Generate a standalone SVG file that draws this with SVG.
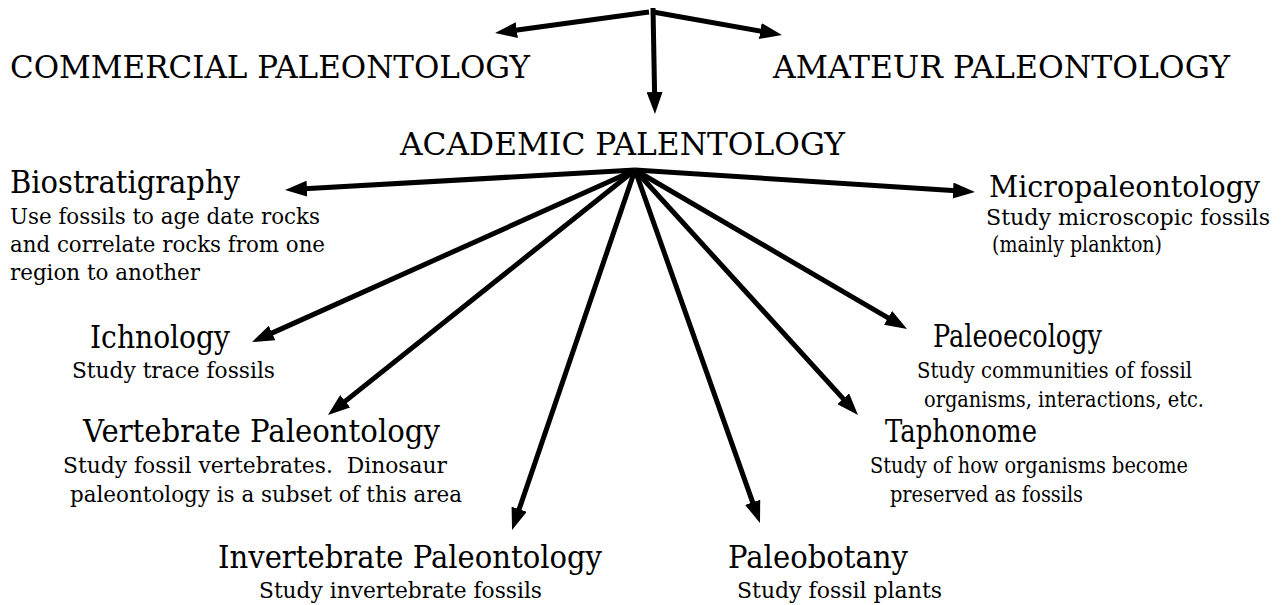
<svg xmlns="http://www.w3.org/2000/svg" width="1281" height="605" viewBox="0 0 1281 605">
<style>
text{font-family:"DejaVu Serif","Liberation Serif",serif;fill:#000;white-space:pre}
.t{font-size:31px}
.d{font-size:22px}
.c{stroke:#000;stroke-width:5;fill:none;marker-end:url(#ah)}
</style>
<defs>
<marker id="ah" markerUnits="userSpaceOnUse" markerWidth="22" markerHeight="16" viewBox="0 0 22 16" refX="7" refY="8" orient="auto">
<path d="M0,0 L22,8 L0,16 Z" fill="#000"/>
</marker>
</defs>
<rect width="1281" height="605" fill="#fff"/>
<g id="connectors">
<line class="c" x1="649" y1="12" x2="509.9" y2="31"/>
<line class="c" x1="653" y1="12" x2="767.2" y2="32.3"/>
<line class="c" x1="653" y1="8" x2="654.7" y2="99"/>
<line class="c" x1="635" y1="170" x2="300" y2="189.1"/>
<line class="c" x1="635" y1="170" x2="960" y2="191"/>
<line class="c" x1="635" y1="170" x2="265.7" y2="335.9"/>
<line class="c" x1="635" y1="170" x2="339.7" y2="405.6"/>
<line class="c" x1="635" y1="170" x2="516.9" y2="515.8"/>
<line class="c" x1="635" y1="170" x2="755" y2="508.9"/>
<line class="c" x1="635" y1="170" x2="847.9" y2="403.9"/>
<line class="c" x1="635" y1="170" x2="894.1" y2="321.4"/>
</g>
<g id="commercial"><text class="t" x="10" y="78" textLength="520" lengthAdjust="spacingAndGlyphs">COMMERCIAL PALEONTOLOGY</text></g>
<g id="amateur"><text class="t" x="773" y="78" textLength="457" lengthAdjust="spacingAndGlyphs">AMATEUR PALEONTOLOGY</text></g>
<g id="academic"><text class="t" x="400" y="155" textLength="445" lengthAdjust="spacingAndGlyphs">ACADEMIC PALENTOLOGY</text></g>
<g id="biostratigraphy">
<text class="t" x="10" y="193" textLength="230" lengthAdjust="spacingAndGlyphs">Biostratigraphy</text>
<text class="d" x="10" y="224" textLength="310" lengthAdjust="spacingAndGlyphs">Use fossils to age date rocks</text>
<text class="d" x="10" y="252" textLength="315" lengthAdjust="spacingAndGlyphs">and correlate rocks from one</text>
<text class="d" x="10" y="280" textLength="190" lengthAdjust="spacingAndGlyphs">region to another</text>
</g>
<g id="micropaleontology">
<text class="t" x="989" y="197" textLength="271" lengthAdjust="spacingAndGlyphs" style="font-size:30px">Micropaleontology</text>
<text class="d" x="986" y="225" textLength="284" lengthAdjust="spacingAndGlyphs">Study microscopic fossils</text>
<text class="d" x="992" y="252" textLength="170" lengthAdjust="spacingAndGlyphs">(mainly plankton)</text>
</g>
<g id="ichnology">
<text class="t" x="90" y="348" textLength="140" lengthAdjust="spacingAndGlyphs">Ichnology</text>
<text class="d" x="72" y="378" textLength="203" lengthAdjust="spacingAndGlyphs">Study trace fossils</text>
</g>
<g id="vertebrate">
<text class="t" x="83" y="442" textLength="357" lengthAdjust="spacingAndGlyphs">Vertebrate Paleontology</text>
<text class="d" x="63" y="473" textLength="384" lengthAdjust="spacingAndGlyphs">Study fossil vertebrates.  Dinosaur</text>
<text class="d" x="70" y="502" textLength="392" lengthAdjust="spacingAndGlyphs">paleontology is a subset of this area</text>
</g>
<g id="invertebrate">
<text class="t" x="218" y="568" textLength="384" lengthAdjust="spacingAndGlyphs">Invertebrate Paleontology</text>
<text class="d" x="259" y="598" textLength="283" lengthAdjust="spacingAndGlyphs">Study invertebrate fossils</text>
</g>
<g id="paleobotany">
<text class="t" x="728" y="568" textLength="180" lengthAdjust="spacingAndGlyphs">Paleobotany</text>
<text class="d" x="737" y="598" textLength="205" lengthAdjust="spacingAndGlyphs">Study fossil plants</text>
</g>
<g id="taphonome">
<text class="t" x="885" y="442" textLength="152" lengthAdjust="spacingAndGlyphs">Taphonome</text>
<text class="d" x="870" y="473" textLength="318" lengthAdjust="spacingAndGlyphs">Study of how organisms become</text>
<text class="d" x="890" y="502" textLength="193" lengthAdjust="spacingAndGlyphs">preserved as fossils</text>
</g>
<g id="paleoecology">
<text class="t" x="933" y="347" textLength="169" lengthAdjust="spacingAndGlyphs">Paleoecology</text>
<text class="d" x="917" y="378" textLength="275" lengthAdjust="spacingAndGlyphs">Study communities of fossil</text>
<text class="d" x="924" y="407" textLength="280" lengthAdjust="spacingAndGlyphs">organisms, interactions, etc.</text>
</g>
</svg>
